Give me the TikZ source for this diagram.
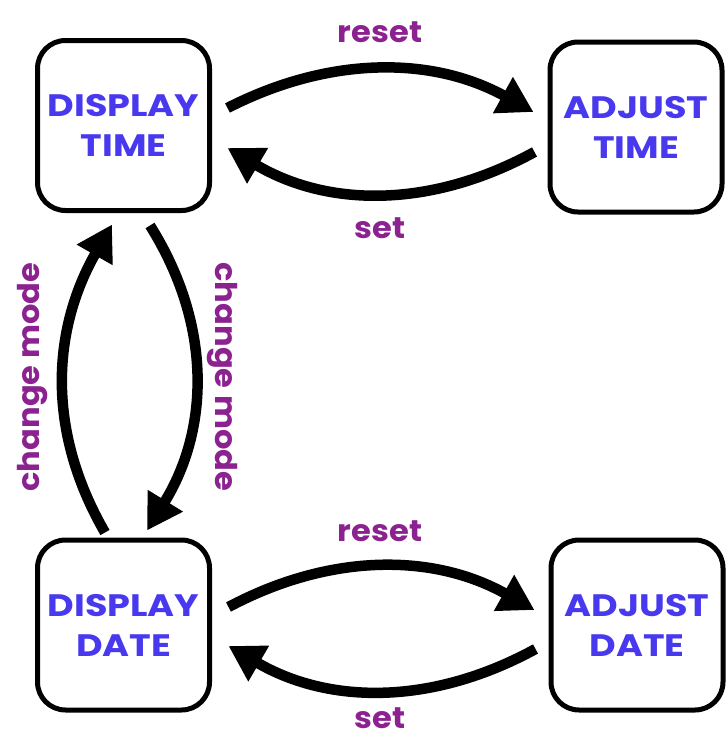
\documentclass[tikz,border=0pt]{standalone}
\usepackage{fontspec}
\setmainfont{Poppins}
\usetikzlibrary{arrows.meta,calc}
\definecolor{statetext}{RGB}{72,56,238}
\definecolor{eventtext}{RGB}{139,34,144}
\newfontfamily\boldwide[FakeStretch=1.18]{Poppins Bold}
\newfontfamily\boldlabel[FakeStretch=1.07]{Poppins Bold}
\tikzset{
  statebox/.style={draw=black, line width=5pt, rounded corners=28pt, fill=white,
    minimum width=172pt, minimum height=170pt, inner sep=0pt, align=center,
    text=statetext, font=\boldwide\fontsize{31}{40}\selectfont},
  eventlabel/.style={text=eventtext, font=\boldlabel\fontsize{30}{36}\selectfont, inner sep=0pt},
  transition/.style={line width=10.5pt, -{Triangle[length=35pt,width=39pt]}}
}
\begin{document}
\begin{tikzpicture}[x=1pt,y=-1pt]
  \useasboundingbox (0,0) rectangle (728,739);

  % states
  \node[statebox] (dt) at (123.5,125.5) {DISPLAY\\TIME};
  \node[statebox] (at) at (636,127) {ADJUST\\TIME};
  \node[statebox] (dd) at (123.5,625) {DISPLAY\\DATE};
  \node[statebox] (ad) at (637,625) {ADJUST\\DATE};

  % time row
  \draw[transition] ($(dt.east)+(15.5,-17.5)$) .. controls (329,56) and (432,56) .. ($(at.west)+(-14,-15)$);
  \draw[transition] ($(at.west)+(-13,25)$) .. controls (432,208) and (329,208) .. ($(dt.east)+(15.5,22.5)$);
  \node[eventlabel] (resetT) at (380,32) {reset};
  \node[eventlabel] (setT) at (380,228) {set};

  % date row
  \draw[transition] ($(dd.east)+(16.5,-18)$) .. controls (330,553) and (433,553) .. ($(ad.west)+(-14,-15)$);
  \draw[transition] ($(ad.west)+(-13,24)$) .. controls (433,705) and (330,705) .. ($(dd.east)+(16.5,21)$);
  \node[eventlabel] (resetD) at (380,531) {reset};
  \node[eventlabel] (setD) at (380,718) {set};

  % mode changes
  \draw[transition] ($(dd.north)+(-18.5,-5)$) .. controls (44,427) and (54,326) .. ($(dt.south)+(-11.5,11.5)$);
  \draw[transition] ($(dt.south)+(26.5,12.5)$) .. controls (213,326) and (209,430) .. ($(dd.north)+(23.5,-7)$);
  \node[eventlabel, rotate=90] (modeL) at (33,377) {change mode};
  \node[eventlabel, rotate=-90] (modeR) at (222,377) {change mode};
\end{tikzpicture}
\end{document}
